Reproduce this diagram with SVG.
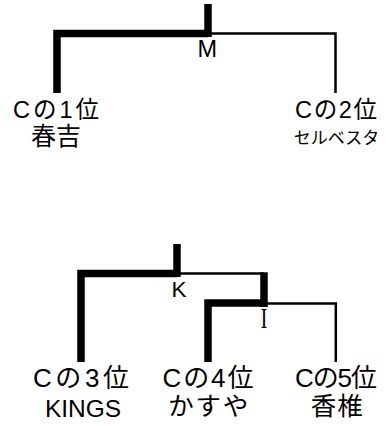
<svg xmlns="http://www.w3.org/2000/svg" width="389" height="426" viewBox="0 0 389 426">
<style>
.thick{fill:none;stroke:#000;stroke-width:7.5;stroke-linejoin:miter}
.thin{fill:none;stroke:#000;stroke-width:2.5;stroke-linejoin:miter}
text{font-family:"Liberation Sans","Noto Sans CJK JP",sans-serif;fill:#000}
.c{text-anchor:middle}
</style>
<rect width="389" height="426" fill="#fff"/>
<g id="connectors">
<path class="thick" d="M208,4V37"/>
<path class="thick" d="M57,93V33.5H208"/>
<path class="thin" d="M208,33.5H335.5V93"/>
<path class="thick" d="M177,244V277"/>
<path class="thick" d="M81,362V273.5H177"/>
<path class="thin" d="M177,273.5H264"/>
<path class="thick" d="M264,272.3V307"/>
<path class="thick" d="M208,362V303H264"/>
<path class="thin" d="M264,303.5H335.8V362"/>
</g>
<g id="match-M"><text x="197.5" y="57.3" font-size="23.5">M</text></g>
<g id="match-K"><text x="171.5" y="296.7" font-size="22.5">K</text></g>
<g id="match-I"><text transform="translate(264,328) scale(0.65,1)" class="c" style="font-family:'Liberation Serif',serif" font-size="30">I</text></g>
<g id="team-1"><text class="c" x="56" y="118.3" font-size="23.5" textLength="86">Cの1位</text><text class="c" x="56" y="145" font-size="25">春吉</text></g>
<g id="team-2"><text class="c" x="336" y="118.3" font-size="23.5" textLength="82">Cの2位</text><text class="c" x="336.5" y="144" font-size="17">セルベスタ</text></g>
<g id="team-3"><text class="c" x="81" y="387" font-size="26" textLength="96">Cの3位</text><text class="c" x="83" y="417.3" font-size="24.5">KINGS</text></g>
<g id="team-4"><text class="c" x="208" y="386.7" font-size="26" textLength="91">Cの4位</text><text class="c" x="208.3" y="415" font-size="25.5" textLength="80">かすや</text></g>
<g id="team-5"><text class="c" x="336" y="386.7" font-size="26" textLength="82">Cの5位</text><text class="c" x="336.7" y="415" font-size="25.5" textLength="52">香椎</text></g>
</svg>
